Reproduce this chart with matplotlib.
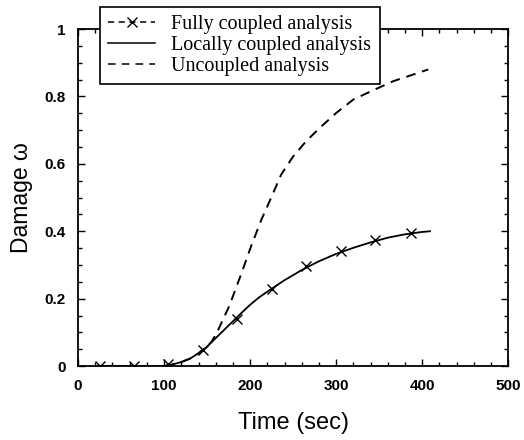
import matplotlib
matplotlib.use('Agg')
import matplotlib.pyplot as plt
from matplotlib.lines import Line2D
from matplotlib.ticker import MultipleLocator

# data
t_full = [25, 65, 105, 145, 185, 225, 265, 305, 345, 387]
d_full = [0.0, 0.0, 0.006, 0.049, 0.141, 0.23, 0.296, 0.341, 0.374, 0.395]

t_local = [25, 60, 100, 110, 120, 130, 140, 150, 160, 170, 180, 190, 200, 210, 220,
           240, 260, 280, 300, 320, 340, 360, 380, 400, 409]
d_local = [0.0, 0.0, 0.0, 0.005, 0.012, 0.022, 0.038, 0.058, 0.083, 0.108, 0.133, 0.158,
           0.182, 0.203, 0.221, 0.255, 0.285, 0.311, 0.333, 0.351, 0.367, 0.381, 0.391, 0.398, 0.40]

t_unc = [25, 60, 100, 110, 120, 130, 140, 148, 155, 161, 176, 190, 201, 213, 225,
         236, 250, 265, 281, 300, 320, 341, 366, 407]
d_unc = [0.0, 0.0, 0.0, 0.005, 0.012, 0.022, 0.038, 0.054, 0.072, 0.097, 0.18, 0.276,
         0.355, 0.434, 0.503, 0.568, 0.622, 0.667, 0.707, 0.751, 0.791, 0.816, 0.845, 0.88]

fig = plt.figure(figsize=(5.24, 4.40), dpi=100)
ax = fig.add_axes([0.149, 0.168, 0.821, 0.766])

# fully coupled curve lies on top of the locally coupled one, only its markers show
ax.plot(t_full, d_full, linestyle='none', color='black', marker='x',
        markersize=7, markeredgewidth=1.0)
ax.plot(t_local, d_local, '-', color='black', lw=1.3)
ax.plot(t_unc, d_unc, linestyle=(0, (5, 3.5)), color='black', lw=1.4)

ax.set_xlim(0, 500)
ax.set_ylim(0, 1)
ax.xaxis.set_major_locator(MultipleLocator(100))
ax.xaxis.set_minor_locator(MultipleLocator(20))
ax.yaxis.set_minor_locator(MultipleLocator(0.05))
ax.set_yticks([0, 0.2, 0.4, 0.6, 0.8, 1.0])
ax.set_yticklabels(['0', '0.2', '0.4', '0.6', '0.8', '1'])
ax.tick_params(which='both', direction='in', top=True, right=True, width=1.0)
ax.tick_params(which='major', length=5, pad=9)
ax.tick_params(which='minor', length=3)
for lab in ax.get_xticklabels() + ax.get_yticklabels():
    lab.set_fontweight('bold')
    lab.set_fontsize(11)
    lab.set_family('Liberation Sans')
for s in ax.spines.values():
    s.set_linewidth(1.3)

ax.set_xlabel('Time (sec)', fontsize=17, family='Liberation Sans', labelpad=14)
ax.set_ylabel('Damage ω', fontsize=16.5, family='Liberation Sans', labelpad=8)

handles = [
    Line2D([], [], linestyle=(0, (4, 3)), color='black', lw=1.1, marker='x',
           markersize=7, markeredgewidth=1.0),
    Line2D([], [], linestyle='-', color='black', lw=1.1),
    Line2D([], [], linestyle=(0, (5, 4)), color='black', lw=1.1),
]
labels = ['Fully coupled analysis', 'Locally coupled analysis', 'Uncoupled analysis']
leg = fig.legend(handles, labels, loc='upper left', bbox_to_anchor=(100 / 524, 1 - 7 / 440),
                 prop={'family': 'Liberation Serif', 'size': 14.5},
                 frameon=True, fancybox=False, framealpha=1, edgecolor='black',
                 handlelength=2.35, borderpad=0.4, labelspacing=0.08,
                 handletextpad=0.8, borderaxespad=0)
leg.get_frame().set_linewidth(1.2)

fig.savefig('out.png', dpi=100)
